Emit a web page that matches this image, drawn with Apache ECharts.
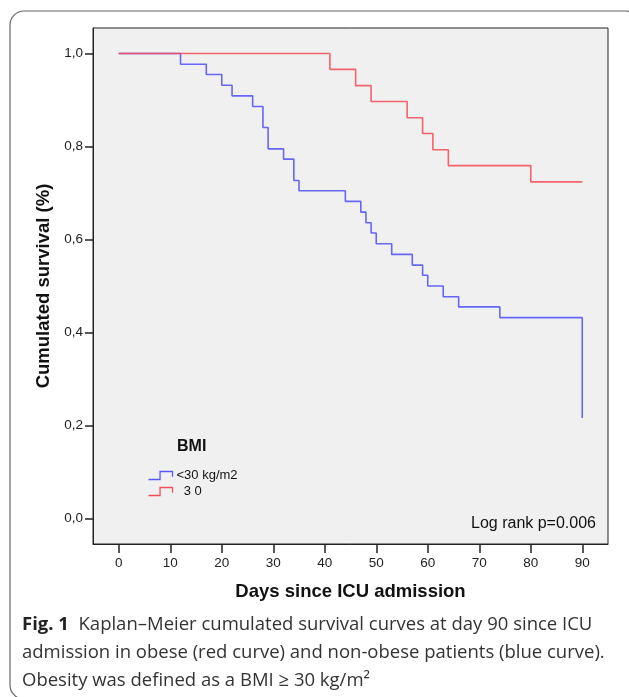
<!DOCTYPE html>
<html>
<head>
<meta charset="utf-8">
<script src="https://cdn.jsdelivr.net/npm/echarts@6/dist/echarts.min.js"></script>
<style>
  html, body { margin: 0; padding: 0; background: #fff; }
  #main { width: 629px; height: 697px; }
</style>
</head>
<body>
<div id="main"></div>
<script>
var chartDom = document.getElementById('main');
var myChart = echarts.init(chartDom);
var option;

// BMI < 30 kg/m2 (blue)
var lowDays = [0, 12, 17, 20, 22, 26, 28, 29, 32, 34, 35, 44, 47, 48, 49, 50, 53, 57, 59, 60, 63, 66, 74, 90];
var lowSurv = [1, 0.977, 0.955, 0.932, 0.909, 0.886, 0.841, 0.795, 0.773, 0.727, 0.705, 0.682, 0.659, 0.636, 0.614, 0.591, 0.568, 0.545, 0.523, 0.500, 0.477, 0.455, 0.432, 0.216];

// BMI >= 30 (red)
var highDays = [0, 41, 46, 49, 56, 59, 61, 64, 80, 90];
var highSurv = [1, 0.966, 0.931, 0.897, 0.862, 0.828, 0.793, 0.759, 0.724, 0.724];

var xTicks = [0, 10, 20, 30, 40, 50, 60, 70, 80, 90];
var yTicks = [0, 0.2, 0.4, 0.6, 0.8, 1];
var groupNames = ['<30 kg/m2', '  3 0'];
var groupColors = ['#5858f6', '#f24f58'];

function pairs(xs, ys) {
    return xs.map(function (x, i) { return [x, ys[i]]; });
}

var stepIcon = 'path://M0,10 L13,10 L13,1 L27,1 L27,7';

option = {
    animation: false,
    backgroundColor: '#fff',
    grid: {
        left: 93,
        right: 21,
        top: 28,
        bottom: 153,
        show: true,
        backgroundColor: '#f0f0f0',
        borderColor: '#222',
        borderWidth: 1
    },
    legend: {
        orient: 'vertical',
        left: 146,
        top: 469,
        padding: 0,
        itemWidth: 26,
        itemHeight: 8,
        itemGap: 3,
        icon: stepIcon,
        textStyle: { fontFamily: 'Liberation Sans', fontSize: 13, color: '#111', padding: [0, 0, 0, -2] },
        data: groupNames.map(function (n, i) {
            return {
                name: n,
                icon: stepIcon,
                itemStyle: { color: 'none', borderColor: groupColors[i], borderWidth: 1.3 }
            };
        })
    },
    xAxis: {
        type: 'value',
        min: -5,
        max: 95,
        name: 'Days since ICU admission',
        nameLocation: 'middle',
        nameGap: 38,
        nameTextStyle: { fontFamily: 'Liberation Sans', fontSize: 18.5, fontWeight: 'bold', color: '#111' },
        axisLine: { show: true, onZero: false, lineStyle: { color: '#222', width: 1 } },
        axisTick: { show: true, length: 9, customValues: xTicks, lineStyle: { color: '#222', width: 1.5 } },
        axisLabel: { customValues: xTicks, margin: 12, fontFamily: 'Liberation Sans', fontSize: 13.5, color: '#222' },
        splitLine: { show: false }
    },
    yAxis: {
        type: 'value',
        min: -0.055,
        max: 1.055,
        name: 'Cumulated survival (%)',
        nameLocation: 'middle',
        nameGap: 37,
        nameTextStyle: { fontFamily: 'Liberation Sans', fontSize: 18.5, fontWeight: 'bold', color: '#111' },
        axisLine: { show: true, onZero: false, lineStyle: { color: '#222', width: 1 } },
        axisTick: { show: true, length: 8, customValues: yTicks, lineStyle: { color: '#222', width: 1.5 } },
        axisLabel: {
            customValues: yTicks,
            margin: 10,
            fontFamily: 'Liberation Sans',
            fontSize: 13.5,
            color: '#222',
            formatter: function (v) { return v.toFixed(1).replace('.', ','); }
        },
        splitLine: { show: false }
    },
    series: [{
        name: groupNames[0],
        type: 'line',
        step: 'end',
        symbol: 'none',
        data: pairs(lowDays, lowSurv),
        color: groupColors[0],
        lineStyle: { color: groupColors[0], width: 1.6, opacity: 0.9 }
    }, {
        name: groupNames[1],
        type: 'line',
        step: 'end',
        symbol: 'none',
        data: pairs(highDays, highSurv),
        color: groupColors[1],
        lineStyle: { color: groupColors[1], width: 1.6, opacity: 0.88 }
    }],
    graphic: [{
        type: 'rect',
        shape: { x: 10, y: 11, width: 630, height: 688, r: 14 },
        style: { fill: 'none', stroke: '#666', lineWidth: 1.2 },
        silent: true
    }, {
        type: 'text',
        left: 177,
        top: 439,
        style: { text: 'BMI', fontFamily: 'Liberation Sans', fontSize: 16, fontWeight: 'bold', fill: '#111' }
    }, {
        type: 'text',
        right: 33,
        top: 516,
        style: { text: 'Log rank p=0.006', fontFamily: 'Liberation Sans', fontSize: 16, fill: '#111' }
    }, {
        type: 'text',
        left: 22,
        top: 611,
        style: {
            text: '{b|Fig. 1}  Kaplan\u2013Meier cumulated survival curves at day 90 since ICU\n' +
                  'admission in obese (red curve) and non-obese patients (blue curve).\n' +
                  'Obesity was defined as a BMI \u2265 30 kg/m\u00b2',
            fontFamily: 'Open Sans',
            fontSize: 18.5,
            lineHeight: 28,
            fill: '#333',
            rich: {
                b: { fontFamily: 'Open Sans', fontSize: 18.5, fontWeight: 'bold', fill: '#222', lineHeight: 28 }
            }
        }
    }]
};

option && myChart.setOption(option);
</script>
</body>
</html>
